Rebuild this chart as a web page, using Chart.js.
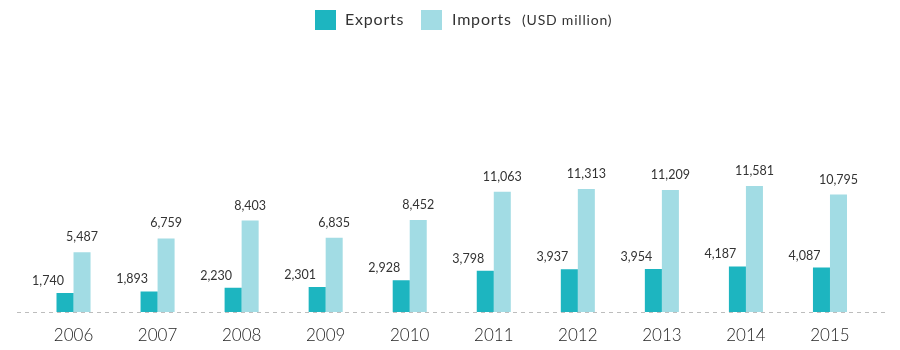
<!DOCTYPE html>
<html>
<head>
<meta charset="utf-8">
<script src="https://cdn.jsdelivr.net/npm/chart.js@4.4.1/dist/chart.umd.min.js"></script>
<style>
  html, body { margin: 0; padding: 0; background: #ffffff; }
  #wrap { width: 900px; height: 350px; position: relative; }
</style>
</head>
<body>
<div id="wrap"><canvas id="chart" width="900" height="350"></canvas></div>
<script>
// Trade values, USD million
const years = ['2006', '2007', '2008', '2009', '2010', '2011', '2012', '2013', '2014', '2015'];
const exportsUsd = [1740, 1893, 2230, 2301, 2928, 3798, 3937, 3954, 4187, 4087];
const importsUsd = [5487, 6759, 8403, 6835, 8452, 11063, 11313, 11209, 11581, 10795];
const seriesNames = ['Exports', 'Imports'];
const unitNote = '(USD million)';

const EXPORT_COLOR = '#1db5c0';
const IMPORT_COLOR = '#a2dce4';
const TEXT_COLOR = '#333333';
const FONT = 'Lato, "Open Sans", sans-serif';

// Draws the legend, the dashed baseline and the value labels
const decorations = {
  id: 'decorations',
  afterDatasetsDraw(chart) {
    const ctx = chart.ctx;
    const yScale = chart.scales.y;
    const zeroY = Math.round(yScale.getPixelForValue(0)) + 0.5;

    // dashed baseline
    ctx.save();
    ctx.strokeStyle = '#bdbdbd';
    ctx.lineWidth = 1;
    ctx.setLineDash([4, 4]);
    ctx.beginPath();
    ctx.moveTo(17, zeroY);
    ctx.lineTo(887, zeroY);
    ctx.stroke();
    ctx.restore();

    // value labels
    ctx.save();
    ctx.fillStyle = TEXT_COLOR;
    ctx.font = '12.5px ' + FONT;
    ctx.textAlign = 'center';
    ctx.textBaseline = 'alphabetic';
    chart.data.datasets.forEach((ds, i) => {
      const meta = chart.getDatasetMeta(i);
      meta.data.forEach((bar, j) => {
        const txt = ds.data[j].toLocaleString('en-US');
        if (i === 0) {
          ctx.fillText(txt, bar.x - 17, bar.y - 8);
        } else {
          ctx.fillText(txt, bar.x, bar.y - 11);
        }
      });
    });
    ctx.restore();

    // legend
    ctx.save();
    ctx.textBaseline = 'middle';
    ctx.textAlign = 'left';
    ctx.fillStyle = EXPORT_COLOR;
    ctx.fillRect(315, 10, 21, 20);
    ctx.fillStyle = IMPORT_COLOR;
    ctx.fillRect(421, 10, 21, 20);
    ctx.fillStyle = TEXT_COLOR;
    ctx.font = '16px ' + FONT;
    if ('letterSpacing' in ctx) ctx.letterSpacing = '0.8px';
    ctx.fillText(chart.data.datasets[0].label, 345, 20);
    ctx.fillText(chart.data.datasets[1].label, 452, 20);
    ctx.font = '14px ' + FONT;
    ctx.fillText(unitNote, 522, 20);
    ctx.restore();
  }
};

new Chart(document.getElementById('chart'), {
  type: 'bar',
  data: {
    labels: years,
    datasets: [
      { label: seriesNames[0], data: exportsUsd, backgroundColor: EXPORT_COLOR },
      { label: seriesNames[1], data: importsUsd, backgroundColor: IMPORT_COLOR }
    ]
  },
  options: {
    responsive: false,
    animation: false,
    devicePixelRatio: 1,
    layout: { padding: { top: 40, left: 31.5, right: 28, bottom: 5 } },
    datasets: {
      bar: { categoryPercentage: 0.405, barPercentage: 1.0 }
    },
    plugins: {
      legend: { display: false },
      tooltip: { enabled: false }
    },
    scales: {
      x: {
        grid: { display: false, drawTicks: false },
        border: { display: false },
        afterFit(scale) { scale.height = 33; },
        ticks: {
          color: '#1e1e1e',
          padding: 13,
          font: { family: FONT, size: 17, weight: '300' }
        }
      },
      y: {
        display: false,
        min: 0,
        max: 25000
      }
    }
  },
  plugins: [decorations]
});
</script>
</body>
</html>
